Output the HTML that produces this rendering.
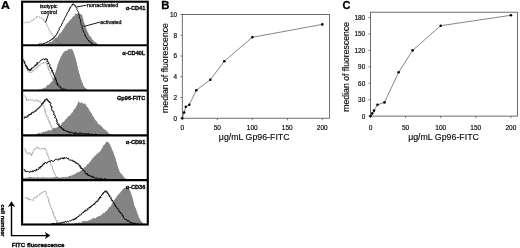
<!DOCTYPE html>
<html><head><meta charset="utf-8"><title>Figure</title>
<style>
html,body{margin:0;padding:0;background:#fff;}
body{width:520px;height:248px;overflow:hidden;}
svg{display:block;filter:blur(0.3px);font-family:"Liberation Sans",sans-serif;}
</style></head><body>
<svg width="520" height="248" viewBox="0 0 520 248">
<rect width="520" height="248" fill="#fff"/>
<polygon fill="#848484" points="45.0,44.6 45.8,44.3 46.5,44.5 47.2,43.8 48.0,43.2 48.6,43.3 49.3,42.5 49.9,42.1 50.6,41.6 51.2,42.5 52.0,41.5 52.7,40.7 53.5,39.5 54.2,39.5 55.0,39.0 55.7,38.2 56.5,37.4 57.2,37.3 58.0,36.3 58.7,34.7 59.2,34.0 59.8,33.7 60.3,32.9 60.9,32.5 61.4,32.1 62.0,31.4 62.5,29.7 63.0,29.8 63.5,28.4 64.0,28.6 64.5,26.9 64.9,26.3 65.4,25.7 65.9,24.7 66.4,24.3 66.9,23.6 67.5,23.0 68.1,23.1 68.7,21.6 69.4,20.8 70.0,20.8 70.6,19.3 71.2,18.7 71.8,18.7 72.3,17.4 72.9,16.6 73.4,16.3 74.0,16.3 74.7,15.2 75.5,13.3 76.2,14.0 76.9,14.0 77.6,13.4 78.3,14.1 79.0,13.5 79.7,13.8 80.5,13.9 81.2,14.6 81.9,14.4 82.1,14.5 82.3,16.6 82.5,16.7 82.7,17.0 82.9,18.1 83.1,18.9 83.3,19.3 83.5,20.8 83.7,21.2 83.9,21.8 84.2,21.9 84.4,23.4 84.6,23.3 84.8,24.5 85.0,25.0 85.3,25.4 85.6,26.9 85.8,27.6 86.1,28.3 86.4,28.5 86.7,29.8 86.9,30.0 87.2,31.2 87.5,31.6 87.9,32.3 88.2,32.5 88.6,34.2 88.9,34.6 89.3,35.3 89.6,35.7 90.0,36.0 90.6,36.7 91.2,37.3 91.8,38.7 92.5,39.9 93.1,39.6 93.7,40.9 94.5,42.0 95.2,42.1 96.0,42.6 96.7,43.0 97.5,44.3 98.2,44.8 99.0,44.8 99.0,45.0 45.0,45.0"/>
<polyline fill="none" stroke="#5c5c5c" stroke-width="0.75" stroke-dasharray="0.8 0.6" points="23.7,22.2 24.4,22.8 25.5,22.2 26.1,22.9 26.9,22.8 27.6,22.3 28.6,22.8 29.2,22.0 30.1,22.1 30.7,21.6 31.3,21.2 31.7,20.4 32.8,20.7 33.0,19.7 33.5,19.1 34.7,19.4 35.1,18.5 35.5,17.7 36.5,17.7 36.6,16.4 37.4,16.5 38.2,17.0 39.4,16.7 39.8,17.8 41.0,17.6 41.8,17.9 42.1,19.2 43.4,19.1 43.4,20.1 44.3,20.4 44.2,21.6 45.2,21.8 45.9,22.4 45.7,23.3 46.6,23.8 46.5,24.7 47.2,25.3 47.2,26.2 47.9,26.7 47.9,27.6 48.6,28.2 48.4,29.2 48.8,29.9 49.4,30.5 49.7,31.2 50.8,31.5 50.9,32.4 50.8,33.4 51.9,33.7 52.0,34.6 53.0,34.8 53.3,35.6 53.3,36.7 54.4,36.8 54.3,37.9 55.3,38.2 55.3,39.2 55.5,40.1 56.7,40.2 57.2,40.8 57.8,41.2 57.9,42.4 59.0,42.3 59.1,43.4 60.1,43.3 60.9,43.4 61.5,44.3 62.3,44.6 63.4,43.8 64.0,44.6"/>
<polyline fill="none" stroke="#000" stroke-width="0.95" stroke-linejoin="round" points="38.0,44.4 38.8,44.5 39.5,43.9 40.2,44.0 41.0,44.3 41.7,43.7 42.6,44.3 43.1,43.5 44.1,43.9 44.6,43.0 45.4,43.0 46.2,43.0 47.0,42.7 47.2,41.6 48.3,41.8 49.1,41.4 49.5,40.4 50.5,40.5 50.9,39.7 52.0,39.8 52.1,38.6 53.3,38.7 53.4,37.8 54.3,37.6 54.5,36.7 55.3,36.4 55.4,35.5 56.3,35.3 56.4,34.4 57.1,33.9 57.1,33.1 58.0,32.7 57.6,31.6 58.2,31.1 59.0,30.6 59.3,29.9 59.1,28.9 59.2,28.2 59.8,27.6 60.1,26.8 60.9,26.3 61.4,25.6 61.3,24.6 62.2,24.1 62.0,23.1 62.8,22.6 62.8,21.6 63.5,21.0 63.6,20.1 64.4,19.7 64.3,18.8 65.0,18.2 65.0,17.4 65.3,16.7 66.0,16.2 66.1,15.3 66.8,14.8 67.0,14.0 67.0,13.1 67.4,12.4 68.4,11.9 68.3,10.9 69.3,10.5 69.0,9.4 70.0,9.0 69.7,7.8 70.6,7.5 70.7,6.7 71.4,6.3 71.7,5.5 72.5,5.2 72.3,4.1 72.9,4.0 73.9,4.2 74.1,5.2 75.3,5.3 75.3,6.6 76.4,6.8 76.4,7.7 77.0,8.4 76.6,9.4 77.2,10.1 77.7,10.8 78.1,11.6 78.5,12.3 78.3,13.2 79.2,13.9 78.6,14.8 79.3,15.4 79.5,16.2 79.1,17.1 79.3,17.8 79.6,18.6 80.4,19.2 80.7,19.9 80.3,20.8 81.0,21.4 80.6,22.3 80.8,23.1 81.3,23.7 81.0,24.6 81.9,25.2 82.2,25.9 82.2,26.7 81.7,27.6 82.5,28.2 82.4,29.1 83.3,29.6 82.9,30.6 83.7,31.2 83.6,32.1 84.3,32.8 84.6,33.6 85.1,34.3 84.6,35.5 85.7,35.8 85.6,36.8 86.0,37.5 87.0,37.9 87.1,38.9 87.8,39.4 88.2,40.1 88.5,41.0 89.7,40.9 89.8,42.1 90.5,42.5 91.5,42.6 91.5,43.8 92.6,43.5 93.3,44.6 94.3,44.2 95.0,44.9 96.0,44.6"/>
<polygon fill="#848484" points="38.5,89.8 39.2,89.2 40.0,89.5 40.8,88.8 41.5,89.3 42.2,88.7 43.0,88.4 43.7,87.7 44.3,87.5 45.0,88.0 45.7,87.6 46.3,86.3 47.0,85.6 47.8,85.0 48.5,84.8 49.2,84.6 50.0,83.8 50.5,82.2 51.0,82.4 51.5,81.7 52.0,81.8 52.5,81.0 53.0,79.8 53.2,78.8 53.4,79.0 53.7,77.8 53.9,77.1 54.1,76.3 54.3,76.0 54.6,75.1 54.8,74.5 55.0,73.4 55.2,73.0 55.4,71.6 55.6,72.0 55.8,70.9 56.0,68.9 56.2,69.7 56.5,68.8 56.7,68.3 56.9,67.1 57.1,67.0 57.3,66.1 57.5,64.1 57.8,63.2 58.1,63.9 58.4,63.0 58.6,61.9 58.9,60.8 59.2,61.2 59.5,60.3 59.8,59.0 60.2,58.5 60.5,56.4 60.9,57.3 61.2,56.3 61.7,55.5 62.1,54.5 62.6,53.7 63.0,52.7 63.5,52.5 64.2,51.9 64.8,51.1 65.5,50.2 66.2,51.3 66.8,50.7 67.2,50.5 67.6,50.0 68.0,49.5 68.7,49.1 69.3,49.2 70.0,48.6 70.8,49.4 71.5,48.7 72.0,49.1 72.5,49.9 73.0,50.7 73.3,51.2 73.6,52.3 73.9,53.0 74.1,54.0 74.4,54.3 74.7,55.5 75.0,56.7 75.2,57.1 75.3,56.9 75.5,58.8 75.7,58.7 75.9,59.1 76.0,60.6 76.2,60.9 76.4,61.1 76.6,62.3 76.7,62.9 76.9,63.0 77.1,64.1 77.2,65.4 77.4,65.4 77.6,66.4 77.7,67.2 77.9,67.8 78.0,68.9 78.2,69.3 78.4,70.0 78.5,70.7 78.7,70.9 78.9,71.8 79.1,72.9 79.3,73.5 79.5,73.7 79.7,74.2 79.9,74.8 80.0,76.4 80.2,75.7 80.4,77.2 80.6,78.1 80.8,78.4 81.0,79.1 81.2,79.8 81.5,80.4 81.8,81.2 82.0,82.6 82.3,82.7 82.6,82.9 82.9,83.1 83.1,84.4 83.4,86.1 83.7,85.8 84.3,86.5 85.0,87.9 85.6,88.1 86.2,88.9 86.8,88.4 87.4,89.9 88.0,89.8 88.0,90.0 38.5,90.0"/>
<polyline fill="none" stroke="#5c5c5c" stroke-width="0.75" stroke-dasharray="0.8 0.6" points="24.5,62.5 24.1,63.5 25.2,64.0 25.6,64.8 25.2,65.8 26.5,66.2 25.6,67.4 26.9,67.7 27.4,68.4 27.9,69.1 27.5,70.5 28.8,70.6 28.7,72.0 30.1,71.4 30.1,73.0 30.8,72.4 32.0,72.4 32.5,71.9 32.4,70.6 33.6,70.7 34.4,70.4 34.5,69.3 35.3,68.9 36.0,68.5 36.1,67.4 37.4,67.5 37.3,66.2 38.4,66.2 38.6,65.1 39.9,65.4 40.2,64.3 40.8,63.7 41.9,63.9 42.8,63.7 43.1,62.4 43.9,62.9 44.7,61.9 45.3,62.8 46.2,62.4 46.0,63.5 47.2,63.9 46.6,65.1 47.8,65.5 48.4,66.3 47.5,67.4 48.7,67.8 47.9,68.9 49.2,69.2 48.5,70.2 49.8,70.6 49.9,71.3 50.0,72.2 49.7,73.2 50.7,73.7 50.4,74.6 51.2,75.2 51.7,75.9 51.4,76.9 52.5,77.2 52.2,78.4 53.2,78.8 53.0,79.9 54.2,80.2 54.2,81.2 54.0,82.4 55.2,82.6 55.2,83.6 56.4,83.8 56.3,85.0 57.2,85.3 57.3,86.4 58.6,86.2 58.7,87.3 59.7,87.4 59.9,88.7 61.0,88.1 61.4,89.4 62.2,89.8 63.4,89.1 64.0,89.8"/>
<polyline fill="none" stroke="#000" stroke-width="1.0" stroke-linejoin="round" points="23.7,59.4 23.1,60.4 23.3,61.1 24.9,61.4 24.0,62.4 25.1,62.9 24.7,63.9 25.5,64.3 25.1,65.4 26.6,65.6 26.0,66.8 27.5,66.9 26.6,68.3 28.0,68.0 27.7,69.8 29.1,69.2 29.1,70.4 29.6,70.2 30.9,70.5 30.5,69.1 31.7,69.3 31.4,68.0 32.7,68.2 33.0,67.3 34.2,67.2 34.7,66.5 34.7,65.3 36.1,65.5 36.0,64.1 37.4,64.3 36.9,62.6 38.5,62.9 39.0,62.4 39.6,61.8 40.3,61.3 40.9,60.6 41.4,59.8 42.2,59.3 43.1,59.2 43.7,58.8 45.0,60.1 45.4,58.7 45.7,58.9 47.3,59.1 47.3,60.1 46.8,61.2 48.2,61.5 48.4,62.3 47.7,63.6 49.2,63.7 49.9,64.3 50.1,65.1 49.3,66.4 49.7,67.1 51.0,67.3 50.2,68.5 51.7,68.6 51.8,69.5 51.5,70.4 52.9,70.6 51.7,72.0 53.3,72.1 52.8,73.1 53.9,73.5 53.1,74.7 54.5,75.0 54.1,76.0 54.4,76.7 55.3,77.2 54.8,78.2 56.2,78.5 55.2,79.7 56.7,80.0 56.0,81.1 56.5,81.8 56.2,82.8 57.9,83.0 57.0,84.4 58.3,84.3 58.2,85.5 58.7,86.1 59.9,86.1 60.3,86.6 60.4,87.8 61.4,87.8 61.6,88.8 62.4,89.5 63.5,88.7 64.1,90.0 65.3,88.8 66.0,89.8"/>
<polygon fill="#848484" points="36.0,134.5 36.7,133.4 37.3,134.1 38.0,133.5 38.7,133.1 39.3,132.9 40.0,132.9 40.7,133.4 41.3,133.2 42.0,132.2 42.7,132.2 43.3,131.3 44.0,132.1 44.7,132.2 45.3,131.3 46.0,131.3 46.7,131.6 47.3,130.7 48.0,130.5 48.7,130.1 49.3,130.3 50.0,130.5 50.7,130.5 51.4,130.2 52.1,128.5 52.9,129.0 53.6,127.4 54.3,128.4 55.0,127.6 55.8,128.1 56.5,127.4 57.2,127.2 58.0,126.8 58.7,125.0 59.3,125.4 60.0,126.2 60.5,125.3 61.0,124.9 61.5,123.8 62.0,123.2 62.5,122.1 63.2,122.1 63.9,121.5 64.6,120.9 65.4,119.4 66.1,119.0 66.8,118.2 67.5,117.5 68.1,116.2 68.7,115.9 69.3,116.1 70.0,115.5 70.6,114.4 71.2,113.7 71.7,112.8 72.3,112.6 72.8,112.0 73.4,110.2 73.9,109.7 74.5,109.0 75.0,108.5 75.4,108.2 75.8,106.9 76.2,106.7 76.6,105.2 77.0,105.4 77.3,104.0 77.6,103.5 77.8,103.3 78.1,101.7 78.4,101.9 78.7,101.1 79.1,101.9 79.6,102.5 80.0,102.9 80.6,102.9 81.2,102.6 81.8,102.2 82.4,102.9 83.0,104.1 83.7,103.6 84.3,104.0 85.0,102.8 85.5,103.9 86.0,105.0 86.5,105.9 87.0,106.9 87.4,107.0 87.9,107.5 88.3,108.2 88.7,108.7 89.1,110.1 89.6,111.1 90.0,110.3 90.4,112.4 90.8,112.0 91.2,113.3 91.6,112.9 92.1,114.6 92.5,115.4 92.9,116.5 93.3,117.0 93.7,116.4 94.2,117.7 94.8,119.4 95.3,119.5 95.9,120.8 96.4,120.8 97.0,121.7 97.5,122.8 98.2,123.7 98.9,124.4 99.6,124.7 100.3,124.7 101.0,126.4 101.7,126.3 102.3,127.0 103.0,128.5 103.7,128.5 104.3,129.3 105.0,129.6 105.7,130.3 106.3,130.8 107.0,131.3 107.7,132.1 108.3,132.8 109.0,133.8 109.8,133.8 110.5,134.4 111.2,134.0 112.0,134.8 112.0,135.0 36.0,135.0"/>
<polyline fill="none" stroke="#5c5c5c" stroke-width="0.75" stroke-dasharray="0.8 0.6" points="24.3,95.5 24.5,96.3 25.4,96.8 25.9,97.5 25.6,98.6 26.9,98.7 26.3,100.4 27.6,101.0 28.2,99.7 29.2,100.4 30.1,99.3 30.9,99.4 31.5,100.5 32.5,99.7 33.1,100.9 33.9,100.6 34.7,101.1 35.3,100.3 36.0,100.3 36.7,99.9 37.2,101.0 38.4,100.4 38.5,101.6 39.6,101.3 40.3,101.7 40.3,103.0 40.9,103.6 42.0,103.7 42.0,104.8 43.2,105.1 43.0,106.1 43.8,106.7 44.6,107.3 44.7,108.1 45.2,108.8 44.3,109.9 45.3,110.4 44.6,111.4 46.2,111.7 45.2,112.8 45.5,113.6 46.6,114.0 46.4,114.8 46.3,115.7 46.4,116.5 48.1,116.6 48.1,117.5 47.5,118.5 48.5,118.9 47.8,120.0 48.4,120.6 49.6,121.1 48.7,122.4 50.4,122.6 49.4,124.0 50.6,124.4 51.5,124.9 50.7,126.2 51.9,126.5 51.4,127.7 52.2,128.2 53.4,128.5 53.5,129.4 54.1,130.1 54.1,131.2 55.5,131.1 55.0,132.9 55.9,133.6 57.2,132.8 57.9,133.2 58.4,134.3 58.9,135.1 60.0,134.7"/>
<polyline fill="none" stroke="#000" stroke-width="1.0" stroke-linejoin="round" points="23.6,118.0 24.6,118.2 24.9,116.6 26.3,117.6 27.1,117.3 27.0,115.7 28.2,116.3 28.9,115.9 28.8,114.3 30.1,115.0 30.2,113.9 31.6,114.3 31.6,112.9 32.1,112.1 33.7,112.8 33.9,111.6 34.4,111.0 35.8,111.5 35.8,110.1 36.8,110.1 37.1,109.2 38.0,109.1 38.1,108.0 39.0,107.9 39.9,107.7 39.8,106.5 40.8,106.2 41.0,105.2 42.0,104.9 41.8,103.6 43.2,103.7 42.7,102.5 43.9,102.4 43.6,101.3 45.1,101.4 44.5,99.8 46.1,100.0 46.4,98.7 47.2,98.9 47.1,100.3 48.2,100.2 48.0,101.3 49.4,101.3 49.1,102.6 50.8,102.7 50.8,103.6 50.2,104.7 50.5,105.4 51.5,105.9 50.9,107.0 52.4,107.3 51.2,108.6 51.9,109.2 51.8,110.1 52.2,110.9 53.7,111.2 54.0,112.0 53.4,113.1 54.3,113.6 53.7,114.6 54.8,115.0 54.9,115.8 55.7,116.3 54.4,117.6 55.7,117.9 56.2,118.5 56.8,119.1 56.2,120.2 57.3,120.6 56.6,121.7 57.6,122.1 56.9,123.4 57.3,124.2 59.1,123.9 58.8,125.2 59.0,126.2 60.2,126.3 60.2,127.3 61.4,127.2 61.3,128.3 62.2,128.5 62.3,129.6 63.5,128.9 63.7,130.4 64.8,130.0 65.2,130.9 66.1,130.6 66.6,131.6 67.4,131.6 68.3,131.2 68.7,132.6 69.7,131.9 70.1,133.2 71.1,132.3 72.0,132.2 72.5,132.6 73.3,132.8 74.0,133.9 74.9,132.4 75.6,134.0 76.5,132.6 77.2,133.7 78.0,133.9 78.8,133.8 79.7,132.7 80.4,133.9 81.3,132.7 82.0,133.2 82.8,134.0 83.6,133.5 84.4,134.0 85.2,133.4 86.0,134.2 86.8,133.3 87.6,134.3 88.5,133.3 89.2,133.6 90.0,135.0 90.7,135.1 91.6,133.8 92.3,135.1 93.1,134.9 93.9,134.0 94.6,135.0 95.4,134.0 96.2,134.2 96.9,134.9 97.7,135.0 98.4,135.5 99.2,135.4 100.0,134.7"/>
<polygon fill="#848484" points="23.0,177.8 23.7,177.5 24.4,178.2 25.1,177.9 25.8,177.6 26.5,177.8 27.2,177.9 27.9,177.5 28.6,177.3 29.3,177.0 30.0,177.1 30.7,177.3 31.4,177.2 32.1,177.1 32.9,177.8 33.6,177.0 34.3,177.6 35.0,177.2 35.7,177.9 36.4,177.1 37.1,177.4 37.9,177.4 38.6,176.5 39.3,177.7 40.0,177.7 40.7,177.8 41.4,177.2 42.1,176.9 42.9,177.9 43.6,177.0 44.3,177.1 45.0,177.7 45.7,177.6 46.4,177.9 47.1,177.3 47.9,177.8 48.6,177.5 49.3,178.1 50.0,177.3 50.7,177.3 51.4,177.4 52.1,177.4 52.9,177.8 53.6,177.2 54.3,177.2 55.0,176.6 55.7,177.2 56.4,177.2 57.1,177.1 57.9,177.6 58.6,177.6 59.3,178.0 60.0,177.3 60.7,177.9 61.4,177.4 62.1,176.9 62.8,177.1 63.5,177.3 64.2,177.3 64.9,177.5 65.6,176.6 66.3,177.0 67.0,177.2 67.7,176.7 68.3,176.8 69.0,176.0 69.7,176.1 70.3,175.5 71.0,176.3 71.7,175.1 72.3,175.6 73.0,174.6 73.7,174.6 74.3,174.5 75.0,174.1 75.7,173.8 76.3,173.1 77.0,172.5 77.7,171.9 78.3,172.7 79.0,171.7 79.7,171.6 80.4,171.0 81.1,170.6 81.8,170.0 82.5,169.8 83.1,168.8 83.8,167.8 84.4,167.1 85.0,167.5 85.6,166.7 86.2,165.7 86.9,165.0 87.5,164.1 88.1,164.2 88.7,163.5 89.3,162.0 89.9,162.2 90.5,161.2 91.0,160.8 91.6,159.4 92.1,159.3 92.6,158.0 93.2,157.6 93.7,157.4 94.4,156.1 95.0,155.8 95.7,155.4 96.3,154.3 97.0,154.3 97.8,153.0 98.5,152.5 99.2,152.5 100.0,151.1 100.5,151.3 101.0,149.9 101.5,148.9 102.0,148.2 102.4,147.7 102.8,147.0 103.3,145.6 103.7,145.2 104.2,144.6 104.6,144.9 105.0,143.8 105.5,143.3 106.2,141.6 106.8,142.3 107.5,141.5 108.1,142.5 108.7,142.2 109.3,143.6 109.7,144.1 110.1,144.4 110.4,144.9 110.8,146.7 111.2,147.0 111.5,147.7 111.7,148.9 112.0,149.6 112.2,149.9 112.5,149.5 112.7,151.0 113.0,151.5 113.3,152.3 113.6,153.0 113.9,153.9 114.1,155.2 114.4,155.2 114.7,155.9 115.0,156.5 115.2,157.2 115.4,158.8 115.6,158.3 115.8,159.5 116.0,159.9 116.2,161.5 116.4,161.3 116.6,162.4 116.8,162.2 117.0,163.6 117.2,164.4 117.4,165.0 117.6,165.1 117.9,166.4 118.1,167.7 118.3,168.4 118.5,168.5 118.7,169.1 119.1,169.6 119.4,171.4 119.8,172.0 120.1,172.6 120.5,173.1 121.0,173.8 121.5,173.7 122.0,174.1 122.5,175.2 123.1,176.0 123.8,177.2 124.4,177.3 125.0,178.4 125.6,178.3 126.2,179.1 126.9,178.9 127.5,179.5 127.5,180.0 23.0,180.0"/>
<polyline fill="none" stroke="#5c5c5c" stroke-width="0.75" stroke-dasharray="0.8 0.6" points="24.6,148.5 24.5,149.4 25.4,149.8 25.0,150.8 26.3,151.1 25.7,152.2 26.7,152.6 26.9,153.6 27.2,154.0 28.2,153.9 28.1,152.8 28.8,153.0 29.8,152.5 29.9,153.2 30.9,153.7 30.4,154.6 31.6,155.0 31.7,155.9 31.9,155.1 31.4,154.0 32.7,153.5 32.1,152.2 33.2,152.0 33.3,151.1 34.0,150.6 34.1,149.6 35.2,149.6 35.3,148.6 35.7,147.8 36.9,147.8 37.7,146.9 37.5,148.0 38.8,147.8 38.8,149.1 39.9,148.7 40.7,149.5 41.3,148.8 42.1,148.2 43.0,149.1 43.6,147.9 44.4,148.7 45.4,148.2 44.9,149.2 45.4,149.8 46.5,150.1 46.1,151.1 46.7,151.6 46.3,152.6 47.2,153.0 46.7,154.0 48.1,154.3 47.9,155.2 47.6,156.1 48.5,156.7 48.3,157.6 49.1,158.1 49.5,158.8 48.9,159.9 50.1,160.3 50.0,161.2 49.6,162.2 50.8,162.5 50.1,163.6 51.0,164.1 51.0,164.9 50.9,165.8 51.5,166.4 52.5,166.8 52.4,167.7 52.3,168.5 53.2,169.0 52.6,170.0 53.5,170.5 53.8,171.2 53.3,172.2 54.3,172.6 53.9,173.7 55.1,173.9 55.0,174.9 55.7,175.3 55.8,176.2 56.6,176.4 56.8,177.2 57.3,178.0 58.3,177.6 58.8,178.3 59.8,177.9 60.2,179.0 61.0,179.0"/>
<polyline fill="none" stroke="#000" stroke-width="1.0" stroke-linejoin="round" points="23.8,169.0 24.2,169.8 25.1,170.1 25.0,171.3 26.1,171.0 26.9,171.9 27.9,171.5 28.6,171.6 29.6,172.5 30.2,171.1 31.1,171.3 32.2,172.1 32.5,170.7 33.7,171.6 34.1,170.4 35.1,170.8 36.1,171.0 36.3,169.1 37.7,169.7 38.5,169.5 39.1,169.0 38.8,167.5 40.4,168.1 40.1,166.6 41.2,166.7 42.1,166.5 42.0,165.0 43.2,165.1 43.1,163.7 44.5,164.0 44.7,162.6 45.4,162.4 46.7,163.5 47.0,162.2 47.9,162.3 48.4,161.5 49.2,161.3 50.2,161.8 50.9,161.0 51.5,160.1 52.6,161.4 53.5,161.3 54.3,160.8 55.0,159.6 55.8,159.3 56.6,159.0 57.8,160.3 58.3,159.1 59.1,158.7 60.1,159.6 60.6,158.2 61.4,158.2 62.3,158.8 62.9,157.5 63.8,159.1 64.4,157.3 65.3,158.4 66.1,157.6 66.9,157.9 67.4,158.7 68.4,158.2 68.8,159.5 69.4,160.1 70.1,160.2 71.2,159.8 71.7,160.6 72.8,160.1 73.0,161.7 74.2,161.1 74.5,162.3 75.7,162.0 75.8,163.2 77.0,162.9 77.2,163.9 78.3,163.7 78.5,164.6 79.4,164.9 79.0,166.1 80.6,165.8 80.0,167.2 81.4,167.2 80.8,168.6 82.5,168.5 83.0,169.1 82.6,170.4 83.7,170.4 84.5,170.7 85.0,171.2 84.8,172.4 85.2,173.3 85.7,174.0 87.5,173.3 87.2,175.1 88.4,174.6 88.7,175.8 90.0,175.4 90.4,176.5 91.6,175.8 91.9,177.3 93.2,176.5 93.6,177.9 94.6,177.3 95.2,178.3 96.0,178.3 97.0,177.6 97.6,178.6 98.3,179.2 99.3,178.3 100.0,178.2 100.7,179.7 101.6,178.4 102.4,178.6 103.1,179.8 104.0,179.6 104.8,178.3 105.6,179.9 106.4,178.9 107.2,179.7 108.0,179.3"/>
<polygon fill="#848484" points="68.0,224.2 68.7,223.8 69.4,223.7 70.1,223.7 70.8,224.3 71.5,224.3 72.2,223.8 72.9,223.7 73.6,224.1 74.3,224.0 75.0,222.9 75.7,223.2 76.4,222.8 77.1,222.9 77.9,223.4 78.6,222.4 79.3,222.6 80.0,222.5 80.7,222.9 81.4,222.6 82.1,221.3 82.9,221.5 83.6,220.8 84.3,221.2 85.0,221.2 85.7,220.5 86.4,221.2 87.1,221.1 87.9,221.1 88.6,220.4 89.3,220.1 90.0,220.3 90.7,219.6 91.4,218.9 92.0,219.2 92.7,218.6 93.4,217.8 94.1,217.9 94.8,218.2 95.5,218.4 96.1,218.1 96.8,216.8 97.5,217.1 98.2,216.3 98.9,216.2 99.6,216.1 100.3,215.5 101.0,215.5 101.7,214.8 102.3,214.3 103.0,213.1 103.7,212.9 104.3,213.2 105.0,212.1 105.6,211.5 106.2,211.1 106.9,210.6 107.5,209.7 108.1,209.0 108.8,207.2 109.4,207.5 110.0,206.7 110.5,206.0 111.0,206.2 111.5,204.4 112.0,203.7 112.3,203.6 112.7,202.5 113.0,202.0 113.4,202.1 113.7,200.5 114.2,200.3 114.6,199.6 115.0,199.3 115.5,198.6 116.0,197.4 116.5,197.3 117.0,196.2 117.5,195.1 118.0,195.7 118.5,194.2 119.0,193.6 119.5,193.4 120.1,192.7 120.6,191.8 121.2,191.4 122.0,190.6 122.7,189.5 123.5,188.6 124.2,187.9 124.8,187.9 125.5,187.9 126.2,185.9 126.8,186.8 127.4,188.2 128.1,187.3 128.7,188.1 129.1,189.4 129.4,189.3 129.8,190.5 130.1,190.8 130.5,191.5 130.8,192.6 131.0,193.0 131.2,193.5 131.5,195.0 131.8,195.8 132.0,195.8 132.2,196.3 132.4,197.6 132.6,198.4 132.7,198.6 132.9,199.6 133.1,199.2 133.3,200.6 133.5,202.0 133.7,202.2 133.9,203.4 134.0,203.2 134.2,204.2 134.4,205.6 134.6,206.5 134.9,206.3 135.1,207.2 135.4,207.8 135.7,207.9 135.9,209.0 136.2,210.0 136.5,210.0 136.7,211.6 137.0,212.5 137.2,212.1 137.5,213.2 137.7,214.2 138.0,215.3 138.2,215.3 138.5,215.3 138.7,216.7 139.0,217.9 139.3,218.2 139.7,218.4 140.0,219.0 140.6,220.4 141.2,221.3 141.8,222.1 142.6,222.5 143.3,224.0 144.2,223.5 145.0,224.3 145.0,224.5 68.0,224.5"/>
<polyline fill="none" stroke="#5c5c5c" stroke-width="0.75" stroke-dasharray="0.8 0.6" points="25.0,197.5 25.6,198.5 26.8,197.4 27.1,198.8 28.5,197.9 28.4,199.6 29.5,199.0 29.9,200.1 30.9,199.5 31.6,200.3 32.3,200.1 33.6,200.2 33.3,198.6 33.9,198.1 34.7,197.6 36.1,198.0 36.1,196.8 37.2,196.9 37.4,195.8 38.5,196.0 39.1,195.4 39.3,194.4 40.3,194.5 40.4,193.2 41.5,193.3 41.9,192.4 43.0,192.4 43.6,191.2 44.4,192.1 45.2,191.2 46.0,191.6 46.4,192.5 46.9,193.2 46.0,194.3 46.2,195.1 46.6,195.9 47.5,196.4 47.3,197.3 48.4,197.8 47.8,198.8 48.7,199.4 47.9,200.4 49.1,200.8 48.7,201.8 49.4,202.4 48.9,203.4 50.3,203.7 50.3,204.5 50.0,205.4 50.3,206.1 51.1,206.6 50.4,207.7 51.1,208.2 52.0,208.7 52.2,209.4 51.8,210.4 52.8,210.9 52.5,211.9 53.7,212.2 52.7,213.5 54.1,213.8 53.4,214.9 53.7,215.7 55.0,216.0 54.1,217.2 55.5,217.4 55.6,218.2 55.0,219.3 56.2,219.6 56.2,220.5 57.4,220.5 57.1,221.7 58.1,221.9 57.8,223.0 58.7,223.5 59.6,222.8 60.1,223.9 61.0,223.2 61.4,224.7 62.1,224.9 63.0,224.3"/>
<polyline fill="none" stroke="#000" stroke-width="1.0" stroke-linejoin="round" points="50.0,224.2 50.9,224.7 51.6,224.5 52.3,223.2 53.3,224.5 53.9,223.1 54.9,223.9 55.8,224.2 56.5,222.8 57.5,223.7 58.3,222.9 59.2,223.6 59.9,222.6 61.0,223.6 61.6,222.3 62.6,223.1 63.2,221.9 64.3,222.8 64.9,221.5 65.8,221.5 66.8,222.4 67.4,221.2 68.5,221.9 69.2,221.4 69.8,220.6 70.9,221.0 71.5,220.1 72.3,219.7 73.4,220.2 73.8,218.9 75.1,219.6 75.2,218.2 76.4,218.6 76.6,217.3 77.7,217.4 77.9,216.5 78.9,216.5 79.1,215.5 79.5,214.8 80.6,215.0 81.3,214.7 81.5,213.5 82.1,212.9 83.1,212.8 83.9,212.4 83.9,211.1 85.3,211.3 85.2,210.1 86.5,210.6 87.2,210.3 87.0,208.8 88.3,209.3 88.7,208.6 88.9,207.4 90.2,208.0 90.2,206.5 91.4,206.8 91.5,205.5 92.7,205.7 93.2,205.1 93.3,204.0 94.7,204.3 94.6,203.1 95.8,203.1 95.9,202.1 96.0,201.2 97.5,201.6 98.0,201.2 97.8,199.9 99.0,199.9 98.6,198.7 99.8,198.5 99.4,197.3 101.2,197.6 100.5,196.2 101.1,195.6 102.1,195.2 102.0,194.2 103.3,194.0 102.9,192.8 104.0,192.8 104.2,191.7 105.2,192.2 105.3,190.7 105.8,191.3 107.1,191.3 106.7,192.6 107.9,192.7 107.6,193.8 108.9,194.0 108.5,195.2 109.8,195.4 109.2,196.7 110.6,196.8 111.2,197.5 110.6,198.9 111.8,199.1 111.5,200.4 113.0,200.5 112.5,201.7 113.0,202.3 114.1,202.5 113.9,203.6 114.7,204.0 114.5,205.0 115.7,205.1 115.2,206.4 116.1,206.7 116.9,207.1 116.7,208.1 117.1,208.7 118.3,208.8 118.7,209.5 118.5,210.5 119.3,210.9 119.1,211.9 120.4,211.9 120.2,213.1 120.8,213.6 122.1,213.7 122.4,214.5 122.2,215.7 123.3,215.8 123.2,217.0 123.9,217.4 124.2,218.2 124.5,219.1 125.3,219.4 126.1,219.7 127.0,219.8 127.1,221.1 128.3,220.7 129.1,220.8 129.2,222.1 130.1,222.0 130.5,223.2 131.5,222.4 131.9,223.6 133.0,222.8 133.5,223.7 134.6,223.0 134.9,224.7 135.8,223.5 136.5,224.4 137.4,223.5 138.0,224.4"/>
<rect x="22.1" y="1.7" width="125.7" height="222.8" fill="none" stroke="#000" stroke-width="2.1"/>
<line x1="22" y1="45.3" x2="147.8" y2="45.3" stroke="#000" stroke-width="2.1"/>
<line x1="22" y1="90.5" x2="147.8" y2="90.5" stroke="#000" stroke-width="2.1"/>
<line x1="22" y1="135.4" x2="147.8" y2="135.4" stroke="#000" stroke-width="2.1"/>
<line x1="22" y1="180.1" x2="147.8" y2="180.1" stroke="#000" stroke-width="2.1"/>
<path d="M76.9 6.9 L86.5 5.2 M83.7 26.5 L100 22.1 M48.5 14 L45.6 22.5" stroke="#000" stroke-width="0.9" fill="none"/>
<text transform="translate(1.0,8.8) scale(1.18,1)" font-size="10.5" font-weight="bold" stroke="#000" stroke-width="0.25">A</text>
<text transform="translate(161.2,8.8) scale(1.08,1)" font-size="10.5" font-weight="bold" stroke="#000" stroke-width="0.25">B</text>
<text transform="translate(342.6,9.1) scale(1.05,1)" font-size="10.5" font-weight="bold" stroke="#000" stroke-width="0.25">C</text>
<text x="48.7" y="7.6" font-size="5.3" font-weight="normal" text-anchor="middle" stroke="#000" stroke-width="0.25" >isotypic</text>
<text x="48.9" y="13.7" font-size="5.3" font-weight="normal" text-anchor="middle" stroke="#000" stroke-width="0.25" >control</text>
<text x="87.0" y="7.2" font-size="5.5" font-weight="normal" text-anchor="start" stroke="#000" stroke-width="0.25" >nonactivated</text>
<text x="100.3" y="23.8" font-size="5.3" font-weight="normal" text-anchor="start" stroke="#000" stroke-width="0.25" >activated</text>
<text x="145.3" y="9.8" font-size="5.6" font-weight="bold" text-anchor="end" stroke="#000" stroke-width="0.3" >α-CD41</text>
<text x="145.3" y="54.9" font-size="5.6" font-weight="bold" text-anchor="end" stroke="#000" stroke-width="0.3" >α-CD40L</text>
<text x="145.3" y="100.0" font-size="5.6" font-weight="bold" text-anchor="end" stroke="#000" stroke-width="0.3" >Gp96-FITC</text>
<text x="145.3" y="143.9" font-size="5.6" font-weight="bold" text-anchor="end" stroke="#000" stroke-width="0.3" >α-CD91</text>
<text x="145.3" y="188.6" font-size="5.6" font-weight="bold" text-anchor="end" stroke="#000" stroke-width="0.3" >α-CD36</text>
<path d="M11.5 235.6 L11.5 203.5 M10.8 235.6 L48 235.6" stroke="#000" stroke-width="1.4" fill="none"/>
<path d="M11.5 201.2 L15.2 207 L11.5 205.6 L7.8 207 Z M50.3 235.6 L45 232.1 L46.2 235.6 L45 239.1 Z" fill="#000"/>
<text transform="translate(0.9,204.6) rotate(90)" font-size="5.7" font-weight="bold" stroke="#000" stroke-width="0.3">cell number</text>
<text x="11.7" y="246.6" font-size="6.1" font-weight="bold" text-anchor="start" stroke="#000" stroke-width="0.3" >FITC fluorescence</text>
<rect x="182.3" y="14.5" width="147.1" height="103.7" fill="none" stroke="#4a4a4a" stroke-width="0.8"/>
<text x="182.3" y="129.6" font-size="6.5" font-weight="normal" text-anchor="middle" stroke="#000" stroke-width="0.15" >0</text>
<text x="217.3" y="129.6" font-size="6.5" font-weight="normal" text-anchor="middle" stroke="#000" stroke-width="0.15" >50</text>
<text x="252.3" y="129.6" font-size="6.5" font-weight="normal" text-anchor="middle" stroke="#000" stroke-width="0.15" >100</text>
<text x="287.3" y="129.6" font-size="6.5" font-weight="normal" text-anchor="middle" stroke="#000" stroke-width="0.15" >150</text>
<text x="322.3" y="129.6" font-size="6.5" font-weight="normal" text-anchor="middle" stroke="#000" stroke-width="0.15" >200</text>
<text x="177.0" y="120.6" font-size="6.4" font-weight="normal" text-anchor="end" stroke="#000" stroke-width="0.15" >0</text>
<text x="177.0" y="99.9" font-size="6.4" font-weight="normal" text-anchor="end" stroke="#000" stroke-width="0.15" >2</text>
<text x="177.0" y="79.1" font-size="6.4" font-weight="normal" text-anchor="end" stroke="#000" stroke-width="0.15" >4</text>
<text x="177.0" y="58.4" font-size="6.4" font-weight="normal" text-anchor="end" stroke="#000" stroke-width="0.15" >6</text>
<text x="177.0" y="37.6" font-size="6.4" font-weight="normal" text-anchor="end" stroke="#000" stroke-width="0.15" >8</text>
<text x="177.0" y="16.9" font-size="6.4" font-weight="normal" text-anchor="end" stroke="#000" stroke-width="0.15" >10</text>
<path d="M182.3 118.2 v2 M217.3 118.2 v2 M252.3 118.2 v2 M287.3 118.2 v2 M322.3 118.2 v2 M182.3 118.2 h-2 M182.3 97.5 h-2 M182.3 76.7 h-2 M182.3 56.0 h-2 M182.3 35.2 h-2 M182.3 14.5 h-2 " stroke="#4a4a4a" stroke-width="0.7" fill="none"/>
<polyline fill="none" stroke="#444" stroke-width="0.65" points="182.3,118.2 184.1,112.5 185.8,106.8 189.3,104.7 196.3,90.2 210.3,79.8 224.3,61.2 252.3,37.3 322.3,24.4"/>
<circle cx="182.3" cy="118.2" r="1.3" fill="#000"/>
<circle cx="184.1" cy="112.5" r="1.3" fill="#000"/>
<circle cx="185.8" cy="106.8" r="1.3" fill="#000"/>
<circle cx="189.3" cy="104.7" r="1.3" fill="#000"/>
<circle cx="196.3" cy="90.2" r="1.3" fill="#000"/>
<circle cx="210.3" cy="79.8" r="1.3" fill="#000"/>
<circle cx="224.3" cy="61.2" r="1.3" fill="#000"/>
<circle cx="252.3" cy="37.3" r="1.3" fill="#000"/>
<circle cx="322.3" cy="24.4" r="1.3" fill="#000"/>
<text x="254.2" y="139.7" font-size="8.8" font-weight="normal" text-anchor="middle" stroke="#000" stroke-width="0.12" >μg/mL Gp96-FITC</text>
<text transform="translate(168.3,68.0) rotate(-90)" font-size="8.7" text-anchor="middle" stroke="#000" stroke-width="0.12">median of fluorescence</text>
<rect x="370.5" y="12.2" width="147.0" height="103.9" fill="none" stroke="#4a4a4a" stroke-width="0.8"/>
<text x="370.5" y="129.6" font-size="6.5" font-weight="normal" text-anchor="middle" stroke="#000" stroke-width="0.15" >0</text>
<text x="405.6" y="129.6" font-size="6.5" font-weight="normal" text-anchor="middle" stroke="#000" stroke-width="0.15" >50</text>
<text x="440.7" y="129.6" font-size="6.5" font-weight="normal" text-anchor="middle" stroke="#000" stroke-width="0.15" >100</text>
<text x="475.8" y="129.6" font-size="6.5" font-weight="normal" text-anchor="middle" stroke="#000" stroke-width="0.15" >150</text>
<text x="510.9" y="129.6" font-size="6.5" font-weight="normal" text-anchor="middle" stroke="#000" stroke-width="0.15" >200</text>
<text x="365.2" y="118.5" font-size="6.4" font-weight="normal" text-anchor="end" stroke="#000" stroke-width="0.15" >0</text>
<text x="365.2" y="102.1" font-size="6.4" font-weight="normal" text-anchor="end" stroke="#000" stroke-width="0.15" >30</text>
<text x="365.2" y="85.6" font-size="6.4" font-weight="normal" text-anchor="end" stroke="#000" stroke-width="0.15" >60</text>
<text x="365.2" y="69.2" font-size="6.4" font-weight="normal" text-anchor="end" stroke="#000" stroke-width="0.15" >90</text>
<text x="365.2" y="52.8" font-size="6.4" font-weight="normal" text-anchor="end" stroke="#000" stroke-width="0.15" >120</text>
<text x="365.2" y="36.3" font-size="6.4" font-weight="normal" text-anchor="end" stroke="#000" stroke-width="0.15" >150</text>
<text x="365.2" y="19.9" font-size="6.4" font-weight="normal" text-anchor="end" stroke="#000" stroke-width="0.15" >180</text>
<path d="M370.5 116.1 v2 M405.6 116.1 v2 M440.7 116.1 v2 M475.8 116.1 v2 M510.9 116.1 v2 M370.5 116.1 h-2 M370.5 99.7 h-2 M370.5 83.2 h-2 M370.5 66.8 h-2 M370.5 50.4 h-2 M370.5 33.9 h-2 M370.5 17.5 h-2 " stroke="#4a4a4a" stroke-width="0.7" fill="none"/>
<polyline fill="none" stroke="#444" stroke-width="0.65" points="370.5,116.1 372.3,113.4 374.0,110.6 377.5,104.8 384.5,102.4 398.6,72.3 412.6,50.4 440.7,25.7 510.9,15.3"/>
<circle cx="370.5" cy="116.1" r="1.3" fill="#000"/>
<circle cx="372.3" cy="113.4" r="1.3" fill="#000"/>
<circle cx="374.0" cy="110.6" r="1.3" fill="#000"/>
<circle cx="377.5" cy="104.8" r="1.3" fill="#000"/>
<circle cx="384.5" cy="102.4" r="1.3" fill="#000"/>
<circle cx="398.6" cy="72.3" r="1.3" fill="#000"/>
<circle cx="412.6" cy="50.4" r="1.3" fill="#000"/>
<circle cx="440.7" cy="25.7" r="1.3" fill="#000"/>
<circle cx="510.9" cy="15.3" r="1.3" fill="#000"/>
<text x="443.5" y="139.7" font-size="8.8" font-weight="normal" text-anchor="middle" stroke="#000" stroke-width="0.12" >μg/mL Gp96-FITC</text>
<text transform="translate(348.6,66.8) rotate(-90)" font-size="8.7" text-anchor="middle" stroke="#000" stroke-width="0.12">median of fluorescence</text>
</svg>
</body></html>
